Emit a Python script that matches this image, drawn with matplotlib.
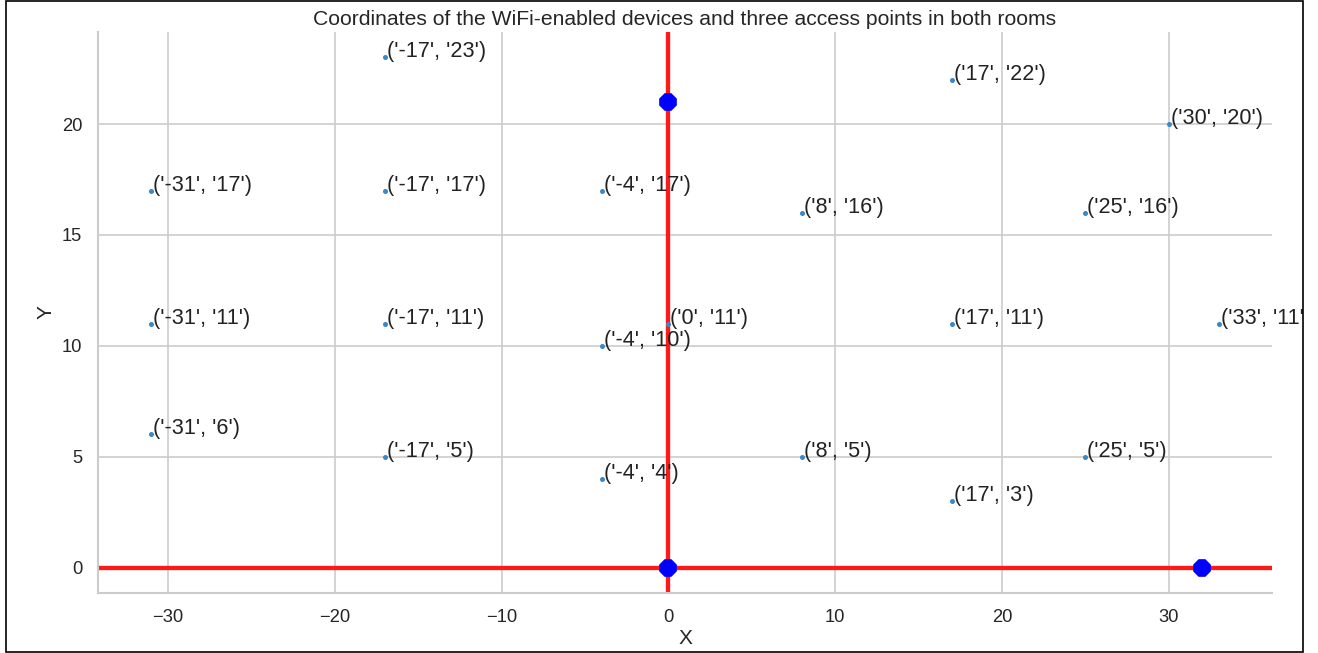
import numpy as np
import matplotlib
matplotlib.use("Agg")
import matplotlib.pyplot as plt
import seaborn as sns
from matplotlib.patches import Rectangle

sns.set_theme(style="whitegrid")
plt.rcParams['font.family'] = ['Liberation Sans', 'DejaVu Sans']

# coordenadas de los dispositivos
dev_x = [-17, 17, 30, -31, -17, -4, 8, 25, -31, -17, 0, 17, 33, -4, -31, -17, 8, 25, -4, 17]
dev_y = [23, 22, 20, 17, 17, 17, 16, 16, 11, 11, 11, 11, 11, 10, 6, 5, 5, 5, 4, 3]
# puntos de acceso
ap_x = [0, 0, 32]
ap_y = [21, 0, 0]

fig = plt.figure(figsize=(1318/120, 653/120), dpi=120)
ax = fig.add_axes([98/1318, 60/653, (1272-98)/1318, (593-32)/653])

ax.scatter(dev_x, dev_y, s=4, color='#3a88cc', zorder=3)
for x, y in zip(dev_x, dev_y):
	ax.annotate(str((str(x), str(y))), (x, y), xytext=(1.2, 0), textcoords='offset points',
		fontsize=13, color='#222222', zorder=4)

ax.axhline(0, color='#ff1a1a', lw=2.6, zorder=2)
ax.axvline(0, color='#ff1a1a', lw=2.6, zorder=2)
ax.plot(ap_x, ap_y, '8', color='blue', ms=10, zorder=5)

ax.set_title("Coordinates of the WiFi-enabled devices and three access points in both rooms", fontsize=12.7, pad=4)
ax.set_xlabel("X", fontsize=12.5, labelpad=2)
ax.set_ylabel("Y", fontsize=12.5)
sns.despine(ax=ax)

# marco de la captura
fig.add_artist(Rectangle((1304/1318, 0), 14/1318, 1, transform=fig.transFigure, facecolor='white', edgecolor='none', zorder=10))
fig.add_artist(Rectangle((6/1318, 1/653), 1297/1318, 651/653, transform=fig.transFigure, facecolor='none', edgecolor='black', lw=1, zorder=11))

fig.savefig("out.png", dpi=120)
